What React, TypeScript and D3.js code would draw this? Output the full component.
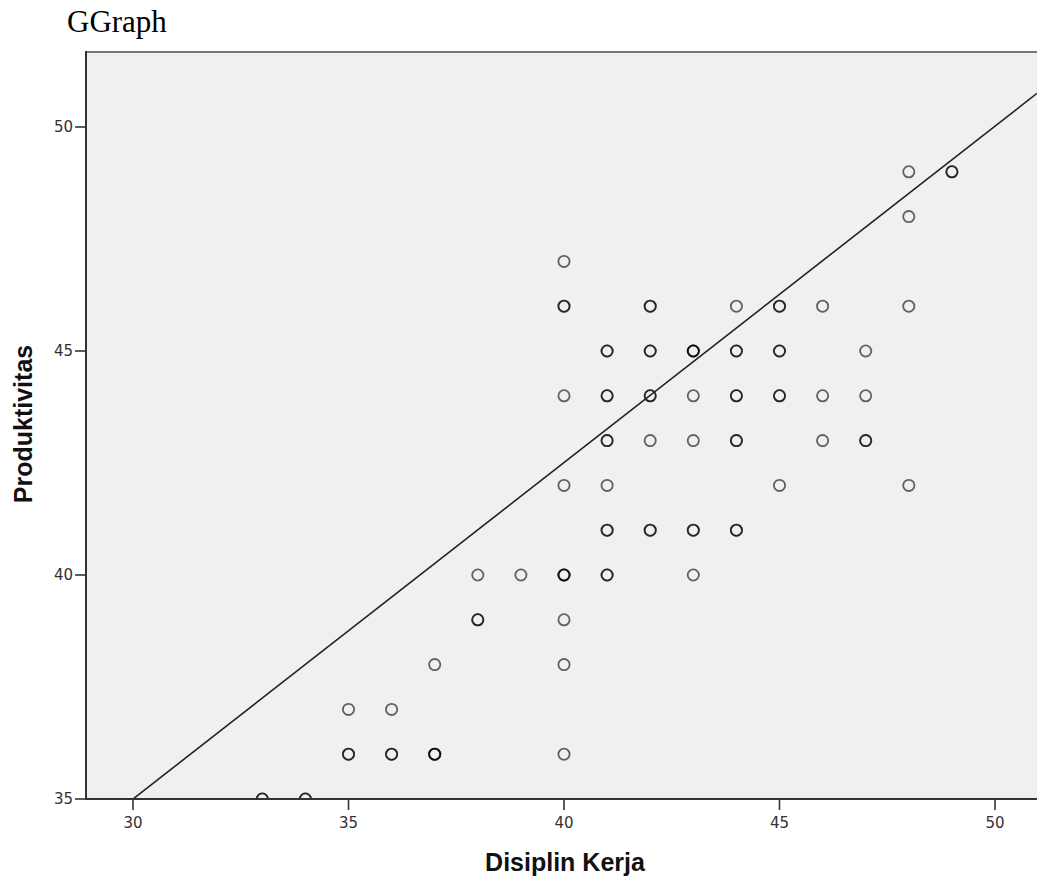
import React from "react";
import * as d3 from "d3";

// scatter of Disiplin Kerja vs Produktivitas, count = overlapping cases
const disiplin = [
  33, 34, 35, 35, 36, 36, 37, 37, 38, 38, 39,
  40, 40, 40, 40, 40, 40, 40, 40,
  41, 41, 41, 41, 41, 41,
  42, 42, 42, 42, 42,
  43, 43, 43, 43, 43,
  44, 44, 44, 44, 44,
  45, 45, 45, 45,
  46, 46, 46,
  47, 47, 47,
  48, 48, 48, 48,
  49,
];
const produktivitas = [
  35, 35, 37, 36, 37, 36, 38, 36, 40, 39, 40,
  47, 46, 44, 42, 40, 39, 38, 36,
  45, 44, 43, 42, 41, 40,
  46, 45, 44, 43, 41,
  45, 44, 43, 41, 40,
  46, 45, 44, 43, 41,
  46, 45, 44, 42,
  46, 44, 43,
  45, 44, 43,
  49, 48, 46, 42,
  49,
];
const counts = [
  2, 2, 1, 2, 1, 2, 1, 3, 1, 2, 1,
  1, 2, 1, 1, 3, 1, 1, 1,
  2, 2, 2, 1, 2, 2,
  2, 2, 2, 1, 2,
  3, 1, 1, 2, 1,
  1, 2, 2, 2, 2,
  2, 2, 2, 1,
  1, 1, 1,
  1, 1, 2,
  1, 1, 1, 1,
  2,
];

const xTicks = [30, 35, 40, 45, 50];
const yTicks = [35, 40, 45, 50];

// fit line
const fitIntercept = 12.47;
const fitSlope = 0.751;

const W = 1037;
const H = 878;
const left = 86;
const right = 1037;
const top = 52;
const bottom = 799;

const App = () => {
  const x = d3.scaleLinear().domain([30, 50]).range([133, 995]);
  const y = d3.scaleLinear().domain([35, 50]).range([bottom, 127]);
  const xMin = x.invert(left);
  const xMax = x.invert(right);

  const fitLine = d3
    .line<number>()
    .x((d) => x(d))
    .y((d) => y(fitIntercept + fitSlope * d));

  const points: { cx: number; cy: number; k: number }[] = [];
  disiplin.forEach((d, i) => {
    for (let k = 0; k < counts[i]; k++) {
      points.push({ cx: x(d), cy: y(produktivitas[i]), k });
    }
  });

  return (
    <div style={{ position: "absolute", left: 0, top: 0 }}>
      <svg width={W} height={H} style={{ display: "block", background: "#fff" }}>
        <defs>
          <clipPath id="plot">
            <rect x={left} y={top} width={right - left} height={bottom - top} />
          </clipPath>
        </defs>
        <text
          x={67}
          y={32}
          fontFamily="Liberation Serif"
          fontSize={31}
          fill="#000"
        >
          GGraph
        </text>

        <rect x={left} y={top} width={right - left} height={bottom - top} fill="#f0f0f0" />

        <g clipPath="url(#plot)">
          {points.map((p, i) => (
            <circle
              key={i}
              cx={p.cx}
              cy={p.cy}
              r={5.6}
              fill="none"
              stroke="#000"
              strokeOpacity={0.6}
              strokeWidth={1.8}
            />
          ))}
          <path
            d={fitLine([xMin, xMax]) || ""}
            fill="none"
            stroke="#222"
            strokeWidth={1.6}
          />
        </g>

        {/* frame */}
        <line x1={left} x2={right} y1={top} y2={top} stroke="#777" strokeWidth={2} />
        <line x1={left} x2={left} y1={top - 1} y2={bottom + 1} stroke="#333" strokeWidth={2} />
        <line x1={left} x2={right} y1={bottom} y2={bottom} stroke="#333" strokeWidth={2} />

        {xTicks.map((t) => (
          <g key={t} transform={`translate(${x(t)},${bottom})`}>
            <line y1={0} y2={11} stroke="#333" strokeWidth={1.6} />
            <text
              y={29}
              textAnchor="middle"
              fontFamily="DejaVu Sans"
              fontSize={15}
              fill="#333"
            >
              {t}
            </text>
          </g>
        ))}
        {yTicks.map((t) => (
          <g key={t} transform={`translate(${left},${y(t)})`}>
            <line x1={-11} x2={0} stroke="#333" strokeWidth={1.6} />
            <text
              x={-13}
              dy="0.36em"
              textAnchor="end"
              fontFamily="DejaVu Sans"
              fontSize={15}
              fill="#333"
            >
              {t}
            </text>
          </g>
        ))}

        <text
          x={565}
          y={871}
          textAnchor="middle"
          fontFamily="Liberation Sans"
          fontWeight="bold"
          fontSize={25}
          fill="#111"
        >
          Disiplin Kerja
        </text>
        <text
          transform={`translate(32,424) rotate(-90)`}
          textAnchor="middle"
          fontFamily="Liberation Sans"
          fontWeight="bold"
          fontSize={25}
          fill="#111"
        >
          Produktivitas
        </text>
      </svg>
    </div>
  );
};

export default App;
